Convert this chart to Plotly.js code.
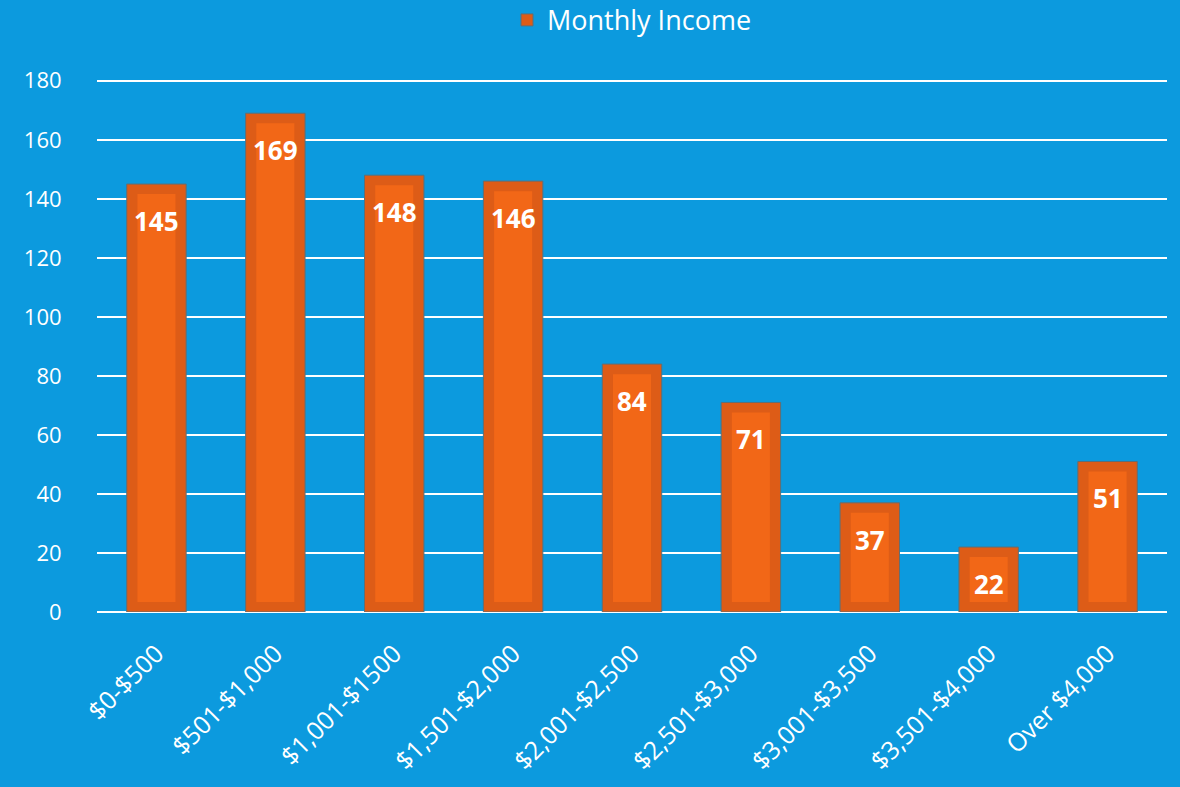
<!DOCTYPE html>
<html>
<head>
<meta charset="utf-8">
<script src="https://cdn.plot.ly/plotly-3.0.1.min.js"></script>
<style>html,body{margin:0;padding:0;background:#0C9ADE;}#chart{width:1180px;height:787px;}</style>
</head>
<body>
<div id="chart"></div>
<script>
const categories = ["$0-$500", "$501-$1,000", "$1,001-$1500", "$1,501-$2,000", "$2,001-$2,500", "$2,501-$3,000", "$3,001-$3,500", "$3,501-$4,000", "Over $4,000"];
const values = [145, 169, 148, 146, 84, 71, 37, 22, 51];
const seriesName = "Monthly Income";
const yTicks = [0, 20, 40, 60, 80, 100, 120, 140, 160, 180];

const FONT = "'Open Sans', Lato, sans-serif";
const inset = 3.4; // inner bevel inset in data units

const outer = {
  type: 'bar', x: categories, y: values, name: seriesName,
  width: 0.5,
  marker: {color: '#DD5C17', line: {color: '#5F6F76', width: 1}},
  hoverinfo: 'x+y'
};
const inner = {
  type: 'bar', x: categories,
  y: values.map(v => v - 2 * inset), base: values.map(() => inset),
  width: 0.32, showlegend: false, hoverinfo: 'skip',
  marker: {color: '#F26717', line: {width: 0}}
};
const annotations = categories.map((c, i) => ({
  x: c, y: values[i], xref: 'x', yref: 'y', text: String(values[i]),
  showarrow: false, yanchor: 'top', yshift: -17,
  font: {family: FONT, size: 26, color: '#FFFFFF', weight: 'bold'}
}));

Plotly.newPlot('chart', [outer, inner], {
  width: 1180, height: 787,
  paper_bgcolor: '#0C9ADE', plot_bgcolor: '#0C9ADE',
  margin: {l: 97, r: 13, t: 79, b: 175, autoexpand: false},
  barmode: 'overlay',
  showlegend: true,
  legend: {orientation: 'h', x: 0.5, xanchor: 'center', y: 1.11, yanchor: 'middle',
           font: {family: FONT, size: 27, color: '#FFFFFF'}, bgcolor: 'rgba(0,0,0,0)'},
  xaxis: {tickangle: -45, tickfont: {family: FONT, size: 25, color: '#FFFFFF'},
          ticks: 'outside', ticklen: 16, tickcolor: 'rgba(0,0,0,0)',
          showgrid: false, zeroline: false, showline: false},
  yaxis: {range: [0, 180.6], tickvals: yTicks, ticks: 'outside', ticklen: 30, tickcolor: 'rgba(0,0,0,0)',
          tickfont: {family: FONT, size: 22, color: '#FFFFFF'},
          showgrid: true, gridcolor: '#FFFFFF', gridwidth: 2, zeroline: true, zerolinecolor: '#FFFFFF', zerolinewidth: 2,
          showline: false},
  annotations: annotations
}, {displayModeBar: false, staticPlot: true});
</script>
</body>
</html>
